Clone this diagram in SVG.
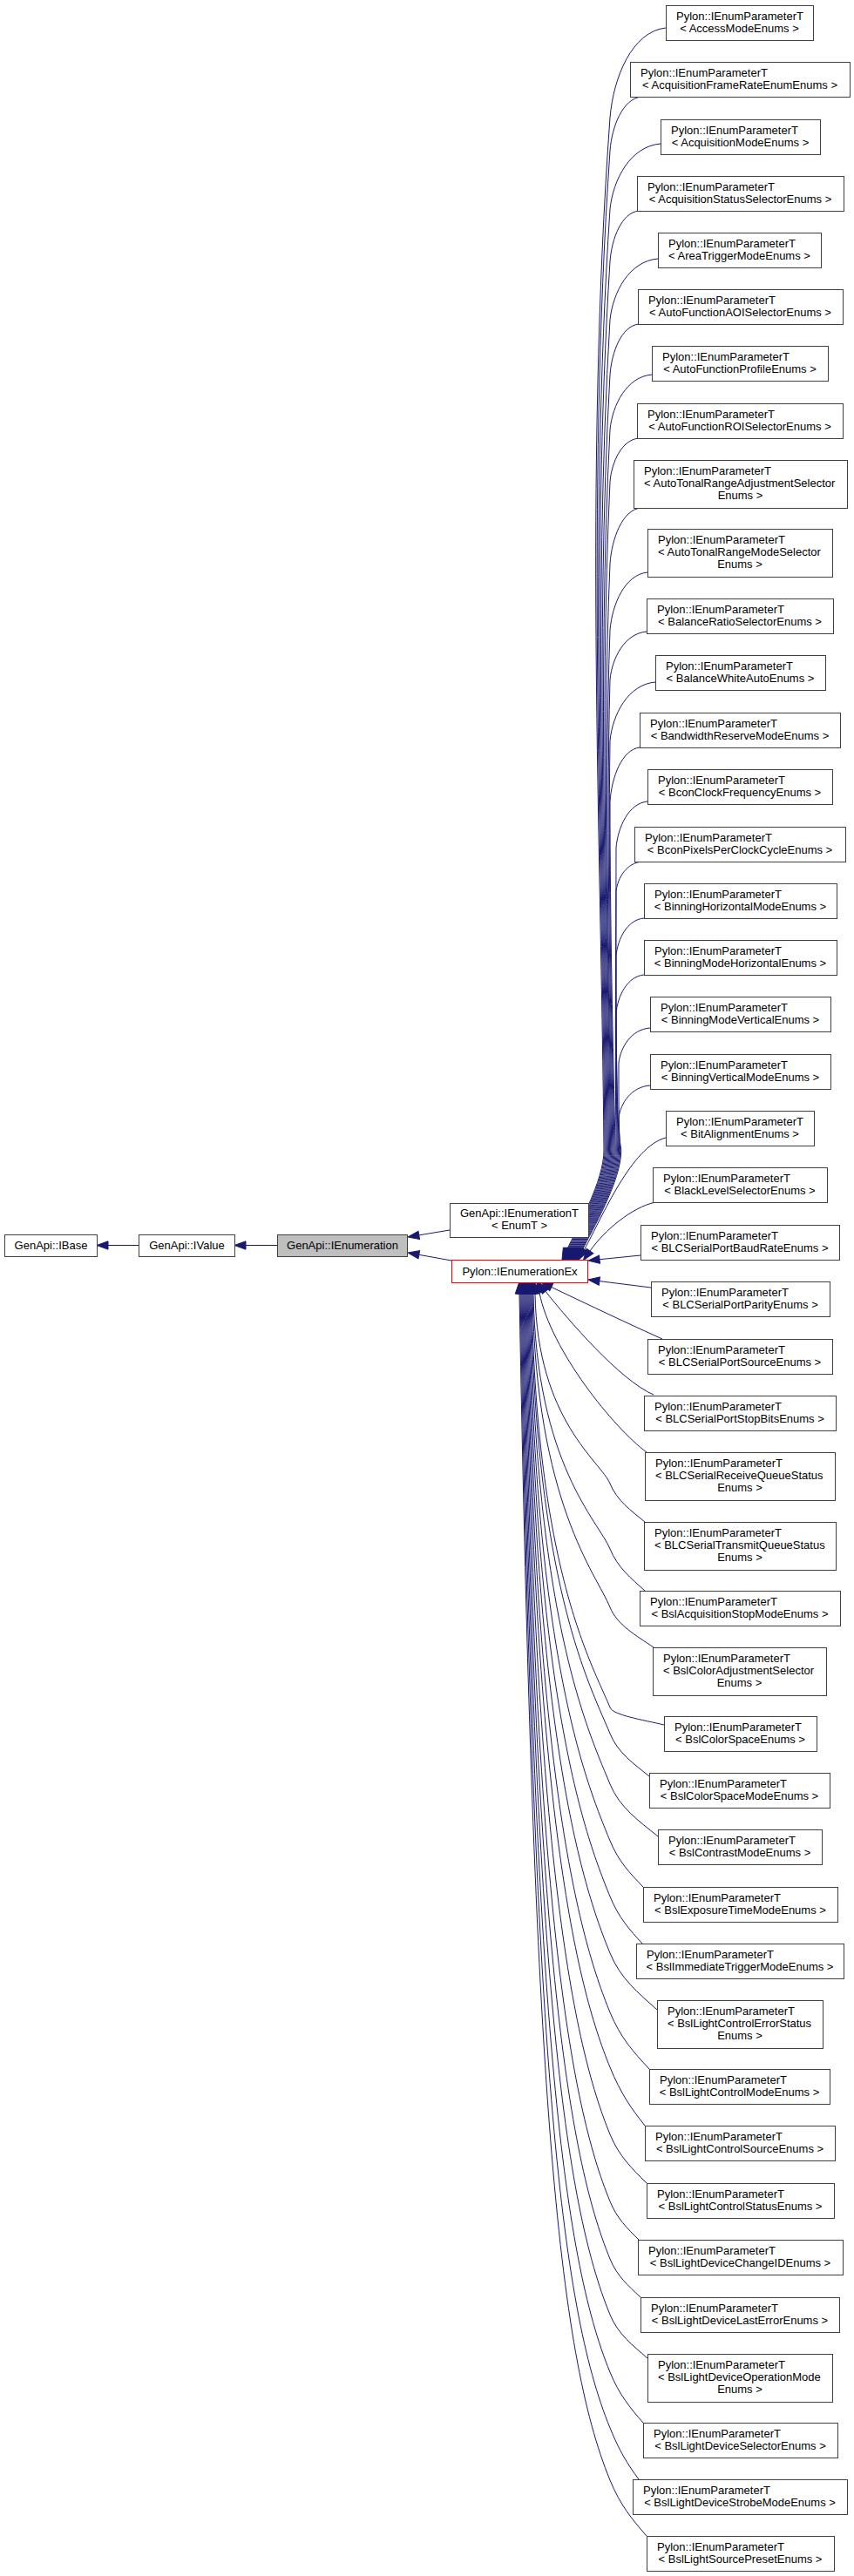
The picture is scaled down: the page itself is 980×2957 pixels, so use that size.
<svg xmlns="http://www.w3.org/2000/svg" width="980" height="2957" viewBox="0 0 980 2957">
<style>
.n rect{fill:#fff;stroke:#404040;stroke-width:1}
.n text{font-family:"Liberation Sans",Arial,Helvetica,sans-serif;font-size:13px;fill:#000}
.c{text-anchor:middle}
#edges path{fill:none;stroke:#191970;stroke-width:1;marker-end:url(#ah)}
</style>
<defs>
<marker id="ah" viewBox="0 0 13 9.4" refX="0" refY="4.7" markerWidth="13" markerHeight="9.4" markerUnits="userSpaceOnUse" orient="auto" overflow="visible">
<path d="M0,0 L13,4.7 L0,9.4 Z" fill="#191970" stroke="#191970" stroke-width="1"/>
</marker>
</defs>
<rect width="980" height="2957" fill="#fff"/>
<g id="edges">
<path d="M160,1429.5 L124,1429.5"/>
<path d="M318,1429.5 L282,1429.5"/>
<path d="M516,1412 L480.8,1417.9"/>
<path d="M518,1447 L480.8,1440.3"/>
<path d="M764,32 C725.6,36.1 703.8,88.6 700,135 C670,549.8 690,964.5 693,1320 C693.5,1355 660.9,1412.7 650.6,1434.3"/>
<path d="M736,111 C714.4,113.5 702.2,145.1 700,173 C672.5,574.5 691.1,975.9 694.1,1320 C694.6,1355 661.9,1412.7 651.6,1434.3"/>
<path d="M758,165 C723.2,168 703.5,206.3 700,240 C675,618 692.2,996 695.2,1320 C695.7,1355 662.9,1412.7 652.6,1434.3"/>
<path d="M733,242 C713.2,244.3 702,273.9 700,300 C677.5,657 693.3,1014 696.3,1320 C696.8,1355 663.9,1412.7 653.6,1434.3"/>
<path d="M755,297 C722,299.8 703.3,335.5 700,367 C680,700.6 694.4,1034.1 697.4,1320 C697.9,1355 664.9,1412.7 654.6,1434.3"/>
<path d="M733,372 C713.2,374.3 702,403.9 700,430 C682.5,741.5 695.5,1053 698.5,1320 C699,1355 665.9,1412.7 655.6,1434.3"/>
<path d="M748,430 C719.2,432.5 702.9,464.7 700,493 C685,782.5 696.6,1071.9 699.6,1320 C700.1,1355 666.9,1412.7 656.6,1434.3"/>
<path d="M733,503 C713.2,505 702,530.5 700,553 C687.5,821.5 697.7,1089.9 700.7,1320 C701.2,1355 667.9,1412.7 657.6,1434.3"/>
<path d="M735,583 C714,585.6 702.1,618.2 700,647 C690,882.6 698.8,1118.1 701.8,1320 C702.3,1355 668.9,1412.7 658.6,1434.3"/>
<path d="M743,657 C717.2,659.6 702.6,693.3 700,723 C692.5,932 699.9,1140.9 702.9,1320 C703.4,1355 669.9,1412.7 659.6,1434.3"/>
<path d="M742,725 C716.8,727.2 702.5,755.3 700,780 C695,969 701,1158 704,1320 C704.5,1355 670.9,1412.7 660.6,1434.3"/>
<path d="M752,783 C720.8,785.7 703.1,819.9 700,850 C697.5,1014.5 702.1,1179 705.1,1320 C705.6,1355 671.9,1412.7 661.6,1434.3"/>
<path d="M734,858 C713.6,860.5 702,892.1 700,920 C700,1060 703.2,1200 706.2,1320 C706.7,1355 672.9,1412.7 662.6,1434.3"/>
<path d="M743,920 C721.4,922.1 709.2,949.2 707,973 C707,1094.5 705.3,1215.9 707.3,1320 C707.8,1355 673.9,1412.7 663.6,1434.3"/>
<path d="M737,989 C719,990.4 708.8,1007.7 707,1023 C707,1127 706.4,1230.9 708.4,1320 C708.9,1355 674.9,1412.7 664.6,1434.3"/>
<path d="M739,1054 C719.8,1055.7 708.9,1077.7 707,1097 C707,1175 707.5,1253.1 709.5,1320 C710,1355 675.9,1412.7 665.6,1434.3"/>
<path d="M739,1119 C719.8,1120.8 708.9,1143.2 707,1163 C707,1218 708.6,1272.9 710.6,1320 C711.1,1355 676.9,1412.7 666.6,1434.3"/>
<path d="M746,1180 C724.4,1181.6 712.2,1202 710,1220 C710,1255 709.7,1290 711.7,1320 C712.2,1355 677.9,1412.7 667.6,1434.3"/>
<path d="M746,1246 C724.4,1247.5 712.2,1266.4 710,1283 C710,1296 710.8,1308.9 712.8,1320 C713.3,1355 678.9,1412.7 668.6,1434.3"/>
<path d="M764,1306 C725,1316 692,1395 670.6,1434.3"/>
<path d="M752,1380 C725,1386 694,1412 677,1436"/>
<path d="M735,1441 L688,1445.7"/>
<path d="M747,1478 L687.9,1470.6"/>
<path d="M760,1537 C720,1519 680,1500 632.8,1477.5"/>
<path d="M750,1601 C712,1585 651,1514 626,1482.3"/>
<path d="M742,1667 C705,1640 632,1550 619,1484"/>
<path d="M740,1747 C724,1733.8 708.1,1722.8 700,1703 C689.8,1678 616.6,1631 614,1485"/>
<path d="M740,1826 C724,1811.6 708.9,1799.6 700,1778 C687,1746.4 615.5,1681.3 612,1485"/>
<path d="M750,1891 C730,1877.2 708.5,1865.7 700,1845 C684.1,1806.1 615.3,1726.2 611,1485"/>
<path d="M762,1980 C737.2,1974 703.7,1969 700,1960 C679,1908.7 615.7,1803.3 610,1485"/>
<path d="M745,2039 C727,2024.3 709,2012.1 700,1990 C677.7,1935.5 615.1,1823.4 609,1485"/>
<path d="M755,2108 C733,2090 711.1,2075 700,2048 C675.1,1987.2 614.8,1862.2 608,1485"/>
<path d="M738,2166 C722.8,2150.1 709.8,2136.9 700,2113 C672.2,2045.2 614.5,1905.8 607,1485"/>
<path d="M737,2231 C722.2,2214.8 710,2201.3 700,2177 C669.4,2102.3 614.3,1948.6 606,1485"/>
<path d="M754,2307 C732.4,2287.5 712,2271.3 700,2242 C666.5,2160.2 614.1,1992.2 605,1485"/>
<path d="M745,2375 C727,2355.5 712,2339.3 700,2310 C663.5,2220.9 613.9,2037.8 604,1485"/>
<path d="M740,2440 C724,2419.9 712.4,2403.2 700,2373 C660.7,2277.1 613.7,2080 603,1485"/>
<path d="M742,2506 C725.2,2489.2 710.3,2475.2 700,2450 C657.3,2345.8 613.6,2131.6 602,1485"/>
<path d="M733,2571 C719.8,2557.8 708.1,2546.8 700,2527 C653.9,2414.5 613.5,2183.1 601,1485"/>
<path d="M735,2637 C721,2623.8 708.1,2612.8 700,2593 C650.9,2473.3 613.3,2227.4 600,1485"/>
<path d="M743,2707 C725.8,2692 709.2,2679.5 700,2657 C648.1,2530.4 613.1,2270.2 599,1485"/>
<path d="M738,2781 C722.8,2763.6 710.7,2749.1 700,2723 C645.2,2589.3 612.9,2314.5 598,1485"/>
<path d="M733,2846 C719.8,2828.3 710.9,2813.6 700,2787 C642.4,2646.4 612.6,2357.3 597,1485"/>
<path d="M742,2911 C725.2,2891.8 711.8,2875.8 700,2847 C639.7,2699.9 612.3,2397.5 596,1485"/>
</g>
<g id="n_IBase" class="n"><rect x="5.5" y="1417.5" width="106" height="25"/><text x="58.5" y="1434" class="c">GenApi::IBase</text></g>
<g id="n_IValue" class="n"><rect x="159.5" y="1417.5" width="110" height="25"/><text x="214.5" y="1434" class="c">GenApi::IValue</text></g>
<g id="n_IEnumeration" class="n"><rect x="318.5" y="1417.5" width="149" height="25" style="fill:#bfbfbf"/><text x="393" y="1434" class="c">GenApi::IEnumeration</text></g>
<g id="n_IEnumerationT" class="n"><rect x="516.5" y="1381.5" width="159" height="39"/><text x="528" y="1397">GenApi::IEnumerationT</text><text x="596" y="1411" class="c">&lt; EnumT &gt;</text></g>
<g id="n_IEnumerationEx" class="n"><rect x="518.5" y="1446.5" width="156" height="26" style="stroke:#ff0000"/><text x="596.5" y="1463.5" class="c">Pylon::IEnumerationEx</text></g>
<g id="n01" class="n"><rect x="764.5" y="6.5" width="169" height="40"/><text x="776" y="22.5">Pylon::IEnumParameterT</text><text x="848.5" y="36.5" class="c">&lt; AccessModeEnums &gt;</text></g>
<g id="n02" class="n"><rect x="723.5" y="71.5" width="252" height="40"/><text x="735" y="87.5">Pylon::IEnumParameterT</text><text x="849" y="101.5" class="c">&lt; AcquisitionFrameRateEnumEnums &gt;</text></g>
<g id="n03" class="n"><rect x="758.5" y="137.5" width="183" height="40"/><text x="770" y="153.5">Pylon::IEnumParameterT</text><text x="849.5" y="167.5" class="c">&lt; AcquisitionModeEnums &gt;</text></g>
<g id="n04" class="n"><rect x="731.5" y="202.5" width="237" height="40"/><text x="743" y="218.5">Pylon::IEnumParameterT</text><text x="849.5" y="232.5" class="c">&lt; AcquisitionStatusSelectorEnums &gt;</text></g>
<g id="n05" class="n"><rect x="755.5" y="267.5" width="187" height="40"/><text x="767" y="283.5">Pylon::IEnumParameterT</text><text x="848.5" y="297.5" class="c">&lt; AreaTriggerModeEnums &gt;</text></g>
<g id="n06" class="n"><rect x="732.5" y="332.5" width="235" height="40"/><text x="744" y="348.5">Pylon::IEnumParameterT</text><text x="849.5" y="362.5" class="c">&lt; AutoFunctionAOISelectorEnums &gt;</text></g>
<g id="n07" class="n"><rect x="748.5" y="397.5" width="202" height="40"/><text x="760" y="413.5">Pylon::IEnumParameterT</text><text x="849" y="427.5" class="c">&lt; AutoFunctionProfileEnums &gt;</text></g>
<g id="n08" class="n"><rect x="731.5" y="463.5" width="236" height="40"/><text x="743" y="479.5">Pylon::IEnumParameterT</text><text x="849" y="493.5" class="c">&lt; AutoFunctionROISelectorEnums &gt;</text></g>
<g id="n09" class="n"><rect x="727.5" y="528.5" width="245" height="55"/><text x="739" y="544.5">Pylon::IEnumParameterT</text><text x="739" y="558.5">&lt; AutoTonalRangeAdjustmentSelector</text><text x="849.5" y="572.5" class="c">Enums &gt;</text></g>
<g id="n10" class="n"><rect x="743.5" y="607.5" width="212" height="55"/><text x="755" y="623.5">Pylon::IEnumParameterT</text><text x="755" y="637.5">&lt; AutoTonalRangeModeSelector</text><text x="849" y="651.5" class="c">Enums &gt;</text></g>
<g id="n11" class="n"><rect x="742.5" y="687.5" width="214" height="40"/><text x="754" y="703.5">Pylon::IEnumParameterT</text><text x="849" y="717.5" class="c">&lt; BalanceRatioSelectorEnums &gt;</text></g>
<g id="n12" class="n"><rect x="752.5" y="752.5" width="195" height="40"/><text x="764" y="768.5">Pylon::IEnumParameterT</text><text x="849.5" y="782.5" class="c">&lt; BalanceWhiteAutoEnums &gt;</text></g>
<g id="n13" class="n"><rect x="734.5" y="818.5" width="230" height="40"/><text x="746" y="834.5">Pylon::IEnumParameterT</text><text x="849" y="848.5" class="c">&lt; BandwidthReserveModeEnums &gt;</text></g>
<g id="n14" class="n"><rect x="743.5" y="883.5" width="212" height="40"/><text x="755" y="899.5">Pylon::IEnumParameterT</text><text x="849" y="913.5" class="c">&lt; BconClockFrequencyEnums &gt;</text></g>
<g id="n15" class="n"><rect x="728.5" y="949.5" width="242" height="40"/><text x="740" y="965.5">Pylon::IEnumParameterT</text><text x="849" y="979.5" class="c">&lt; BconPixelsPerClockCycleEnums &gt;</text></g>
<g id="n16" class="n"><rect x="739.5" y="1014.5" width="221" height="40"/><text x="751" y="1030.5">Pylon::IEnumParameterT</text><text x="849.5" y="1044.5" class="c">&lt; BinningHorizontalModeEnums &gt;</text></g>
<g id="n17" class="n"><rect x="739.5" y="1079.5" width="221" height="40"/><text x="751" y="1095.5">Pylon::IEnumParameterT</text><text x="849.5" y="1109.5" class="c">&lt; BinningModeHorizontalEnums &gt;</text></g>
<g id="n18" class="n"><rect x="746.5" y="1144.5" width="207" height="40"/><text x="758" y="1160.5">Pylon::IEnumParameterT</text><text x="849.5" y="1174.5" class="c">&lt; BinningModeVerticalEnums &gt;</text></g>
<g id="n19" class="n"><rect x="746.5" y="1210.5" width="207" height="40"/><text x="758" y="1226.5">Pylon::IEnumParameterT</text><text x="849.5" y="1240.5" class="c">&lt; BinningVerticalModeEnums &gt;</text></g>
<g id="n20" class="n"><rect x="764.5" y="1275.5" width="170" height="40"/><text x="776" y="1291.5">Pylon::IEnumParameterT</text><text x="849" y="1305.5" class="c">&lt; BitAlignmentEnums &gt;</text></g>
<g id="n21" class="n"><rect x="749.5" y="1340.5" width="200" height="40"/><text x="761" y="1356.5">Pylon::IEnumParameterT</text><text x="849" y="1370.5" class="c">&lt; BlackLevelSelectorEnums &gt;</text></g>
<g id="n22" class="n"><rect x="735.5" y="1406.5" width="228" height="40"/><text x="747" y="1422.5">Pylon::IEnumParameterT</text><text x="849" y="1436.5" class="c">&lt; BLCSerialPortBaudRateEnums &gt;</text></g>
<g id="n23" class="n"><rect x="747.5" y="1471.5" width="205" height="40"/><text x="759" y="1487.5">Pylon::IEnumParameterT</text><text x="849.5" y="1501.5" class="c">&lt; BLCSerialPortParityEnums &gt;</text></g>
<g id="n24" class="n"><rect x="743.5" y="1537.5" width="212" height="40"/><text x="755" y="1553.5">Pylon::IEnumParameterT</text><text x="849" y="1567.5" class="c">&lt; BLCSerialPortSourceEnums &gt;</text></g>
<g id="n25" class="n"><rect x="739.5" y="1602.5" width="220" height="40"/><text x="751" y="1618.5">Pylon::IEnumParameterT</text><text x="849" y="1632.5" class="c">&lt; BLCSerialPortStopBitsEnums &gt;</text></g>
<g id="n26" class="n"><rect x="740.5" y="1667.5" width="218" height="55"/><text x="752" y="1683.5">Pylon::IEnumParameterT</text><text x="752" y="1697.5">&lt; BLCSerialReceiveQueueStatus</text><text x="849" y="1711.5" class="c">Enums &gt;</text></g>
<g id="n27" class="n"><rect x="739.5" y="1747.5" width="220" height="55"/><text x="751" y="1763.5">Pylon::IEnumParameterT</text><text x="751" y="1777.5">&lt; BLCSerialTransmitQueueStatus</text><text x="849" y="1791.5" class="c">Enums &gt;</text></g>
<g id="n28" class="n"><rect x="734.5" y="1826.5" width="230" height="40"/><text x="746" y="1842.5">Pylon::IEnumParameterT</text><text x="849" y="1856.5" class="c">&lt; BslAcquisitionStopModeEnums &gt;</text></g>
<g id="n29" class="n"><rect x="749.5" y="1891.5" width="199" height="55"/><text x="761" y="1907.5">Pylon::IEnumParameterT</text><text x="761" y="1921.5">&lt; BslColorAdjustmentSelector</text><text x="848.5" y="1935.5" class="c">Enums &gt;</text></g>
<g id="n30" class="n"><rect x="762.5" y="1970.5" width="175" height="40"/><text x="774" y="1986.5">Pylon::IEnumParameterT</text><text x="849.5" y="2000.5" class="c">&lt; BslColorSpaceEnums &gt;</text></g>
<g id="n31" class="n"><rect x="745.5" y="2035.5" width="207" height="40"/><text x="757" y="2051.5">Pylon::IEnumParameterT</text><text x="848.5" y="2065.5" class="c">&lt; BslColorSpaceModeEnums &gt;</text></g>
<g id="n32" class="n"><rect x="755.5" y="2100.5" width="188" height="40"/><text x="767" y="2116.5">Pylon::IEnumParameterT</text><text x="849" y="2130.5" class="c">&lt; BslContrastModeEnums &gt;</text></g>
<g id="n33" class="n"><rect x="738.5" y="2166.5" width="223" height="40"/><text x="750" y="2182.5">Pylon::IEnumParameterT</text><text x="849.5" y="2196.5" class="c">&lt; BslExposureTimeModeEnums &gt;</text></g>
<g id="n34" class="n"><rect x="730.5" y="2231.5" width="238" height="40"/><text x="742" y="2247.5">Pylon::IEnumParameterT</text><text x="849" y="2261.5" class="c">&lt; BslImmediateTriggerModeEnums &gt;</text></g>
<g id="n35" class="n"><rect x="754.5" y="2296.5" width="190" height="55"/><text x="766" y="2312.5">Pylon::IEnumParameterT</text><text x="766" y="2326.5">&lt; BslLightControlErrorStatus</text><text x="849" y="2340.5" class="c">Enums &gt;</text></g>
<g id="n36" class="n"><rect x="745.5" y="2375.5" width="207" height="40"/><text x="757" y="2391.5">Pylon::IEnumParameterT</text><text x="848.5" y="2405.5" class="c">&lt; BslLightControlModeEnums &gt;</text></g>
<g id="n37" class="n"><rect x="740.5" y="2440.5" width="218" height="40"/><text x="752" y="2456.5">Pylon::IEnumParameterT</text><text x="849" y="2470.5" class="c">&lt; BslLightControlSourceEnums &gt;</text></g>
<g id="n38" class="n"><rect x="742.5" y="2506.5" width="215" height="40"/><text x="754" y="2522.5">Pylon::IEnumParameterT</text><text x="849.5" y="2536.5" class="c">&lt; BslLightControlStatusEnums &gt;</text></g>
<g id="n39" class="n"><rect x="732.5" y="2571.5" width="235" height="40"/><text x="744" y="2587.5">Pylon::IEnumParameterT</text><text x="849.5" y="2601.5" class="c">&lt; BslLightDeviceChangeIDEnums &gt;</text></g>
<g id="n40" class="n"><rect x="735.5" y="2637.5" width="228" height="40"/><text x="747" y="2653.5">Pylon::IEnumParameterT</text><text x="849" y="2667.5" class="c">&lt; BslLightDeviceLastErrorEnums &gt;</text></g>
<g id="n41" class="n"><rect x="743.5" y="2702.5" width="212" height="55"/><text x="755" y="2718.5">Pylon::IEnumParameterT</text><text x="755" y="2732.5">&lt; BslLightDeviceOperationMode</text><text x="849" y="2746.5" class="c">Enums &gt;</text></g>
<g id="n42" class="n"><rect x="738.5" y="2781.5" width="223" height="40"/><text x="750" y="2797.5">Pylon::IEnumParameterT</text><text x="849.5" y="2811.5" class="c">&lt; BslLightDeviceSelectorEnums &gt;</text></g>
<g id="n43" class="n"><rect x="726.5" y="2846.5" width="246" height="40"/><text x="738" y="2862.5">Pylon::IEnumParameterT</text><text x="849" y="2876.5" class="c">&lt; BslLightDeviceStrobeModeEnums &gt;</text></g>
<g id="n44" class="n"><rect x="742.5" y="2911.5" width="215" height="40"/><text x="754" y="2927.5">Pylon::IEnumParameterT</text><text x="849.5" y="2941.5" class="c">&lt; BslLightSourcePresetEnums &gt;</text></g>
</svg>
